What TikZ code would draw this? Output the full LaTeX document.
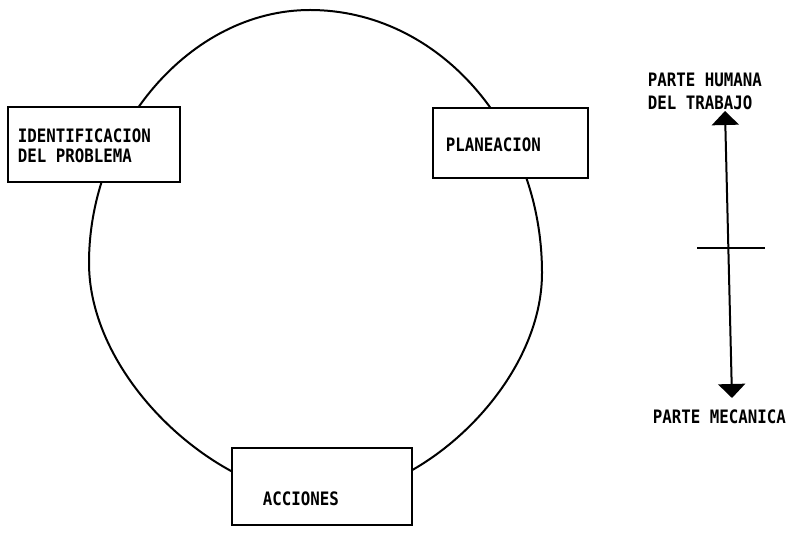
\documentclass[tikz,border=0pt]{standalone}
\usepackage{fontspec}
\newfontfamily\leroy{DejaVu Sans Mono}
\usetikzlibrary{arrows.meta}
\begin{document}
\begin{tikzpicture}[x=1pt,y=-1pt, line width=2pt,
  lbl/.style={font=\leroy\fontsize{18.5}{20}\selectfont\bfseries, inner sep=0pt, anchor=base west, xscale=0.853},
  stepbox/.style={draw, fill=white, line width=2pt, inner sep=0pt},
  bighead/.tip={Triangle[width=27pt,length=14pt]}]
\useasboundingbox (0,0) rectangle (789,534);
% cycle
\coordinate (ctop) at (310,10);
\coordinate (cright) at (542,273);
\coordinate (cbot) at (322,497);
\coordinate (cleft) at (89,263);
\draw (ctop) .. controls (438,10) and (542,128) .. (cright)
  .. controls (542,385) and (420,497) .. (cbot)
  .. controls (220,497) and (89,380) .. (cleft)
  .. controls (89,130) and (190,10) .. (ctop) -- cycle;
% boxes
\node[stepbox, minimum width=172pt, minimum height=75pt] (idbox) at (94,144.5) {};
\node[stepbox, minimum width=155pt, minimum height=70pt] (plbox) at (510.5,143) {};
\node[stepbox, minimum width=180pt, minimum height=77pt] (acbox) at (322,486.5) {};
\node[lbl] (idA) at (17,143) {IDENTIFICACION};
\node[lbl] (idB) at (17,163) {DEL PROBLEMA};
\node[lbl] (pl) at (445,152) {PLANEACION};
\node[lbl] (ac) at (262,505) {ACCIONES};
% scale
\node[lbl] (hA) at (647,87) {PARTE HUMANA};
\node[lbl] (hB) at (647,110) {DEL TRABAJO};
\node[lbl] (mec) at (652,423) {PARTE MECANICA};
\coordinate (top) at (725,111);
\coordinate (bot) at (732,398);
\coordinate (cl) at (697,248);
\coordinate (cr) at (765,248);
\draw[bighead-bighead] (top) -- (bot);
\draw (cl) -- (cr);
\end{tikzpicture}
\end{document}
